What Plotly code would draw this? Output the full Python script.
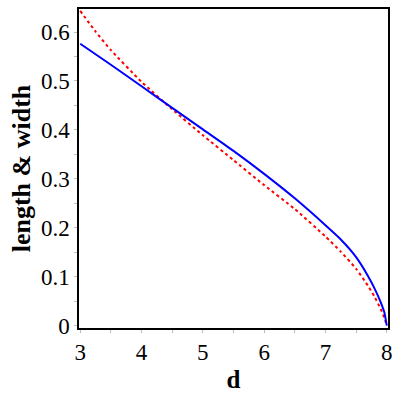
import plotly.graph_objects as go

# values
d_blue = [3.0, 3.5, 4.0, 4.5, 5.0, 5.5, 6.0, 6.5, 7.0, 7.25, 7.5, 7.7, 7.8, 7.9, 7.96, 8.0]
length = [0.576, 0.533, 0.489, 0.445, 0.401, 0.357, 0.310, 0.260, 0.205, 0.176, 0.140, 0.100, 0.076, 0.048, 0.027, 0.0]

d_red = [3.0, 3.25, 3.5, 4.0, 4.5, 5.0, 5.5, 6.0, 6.5, 7.0, 7.25, 7.5, 7.7, 7.8, 7.9, 7.96, 8.0]
width = [0.643, 0.601, 0.563, 0.498, 0.442, 0.389, 0.338, 0.287, 0.238, 0.182, 0.151, 0.116, 0.080, 0.059, 0.034, 0.016, 0.0]

fig = go.Figure()

fig.add_trace(go.Scatter(
    x=d_red, y=width, mode='lines', line_shape='spline',
    line=dict(color='#ff0000', width=2, dash='dot', smoothing=0.5),
    showlegend=False,
))
fig.add_trace(go.Scatter(
    x=d_blue, y=length, mode='lines', line_shape='spline',
    line=dict(color='#0000ff', width=2, smoothing=0.5),
    showlegend=False,
))

axis_common = dict(
    showline=True, linecolor='black', linewidth=1.5, mirror=True,
    showgrid=False, zeroline=False,
    ticks='outside', ticklen=3, tickcolor='#bbbbbb',
    tickfont=dict(family='Liberation Serif', size=23, color='black'),
)

fig.update_layout(
    width=400, height=400,
    margin=dict(l=79, r=11, t=7, b=72),
    plot_bgcolor='white', paper_bgcolor='white',
    xaxis=dict(
        range=[2.98, 8.02], dtick=1, tick0=3,
        minor=dict(ticks='outside', ticklen=3, dtick=0.5, tickcolor='#bbbbbb'),
        title=dict(text='<b>d</b>', font=dict(family='Liberation Serif', size=25, color='black'), standoff=6),
        **axis_common,
    ),
    yaxis=dict(
        range=[-0.005, 0.647], dtick=0.1, tick0=0,
        minor=dict(ticks='outside', ticklen=3, dtick=0.05, tickcolor='#bbbbbb'),
        title=dict(text='<b>length &amp; width</b>', font=dict(family='Liberation Serif', size=26, color='black'), standoff=3),
        **axis_common,
    ),
)

# page body has a default 8px margin; drop it so the 400x400 figure fills the window
fig.write_html("out.html", config={'displayModeBar': False},
               post_script="document.body.style.margin='0';")
